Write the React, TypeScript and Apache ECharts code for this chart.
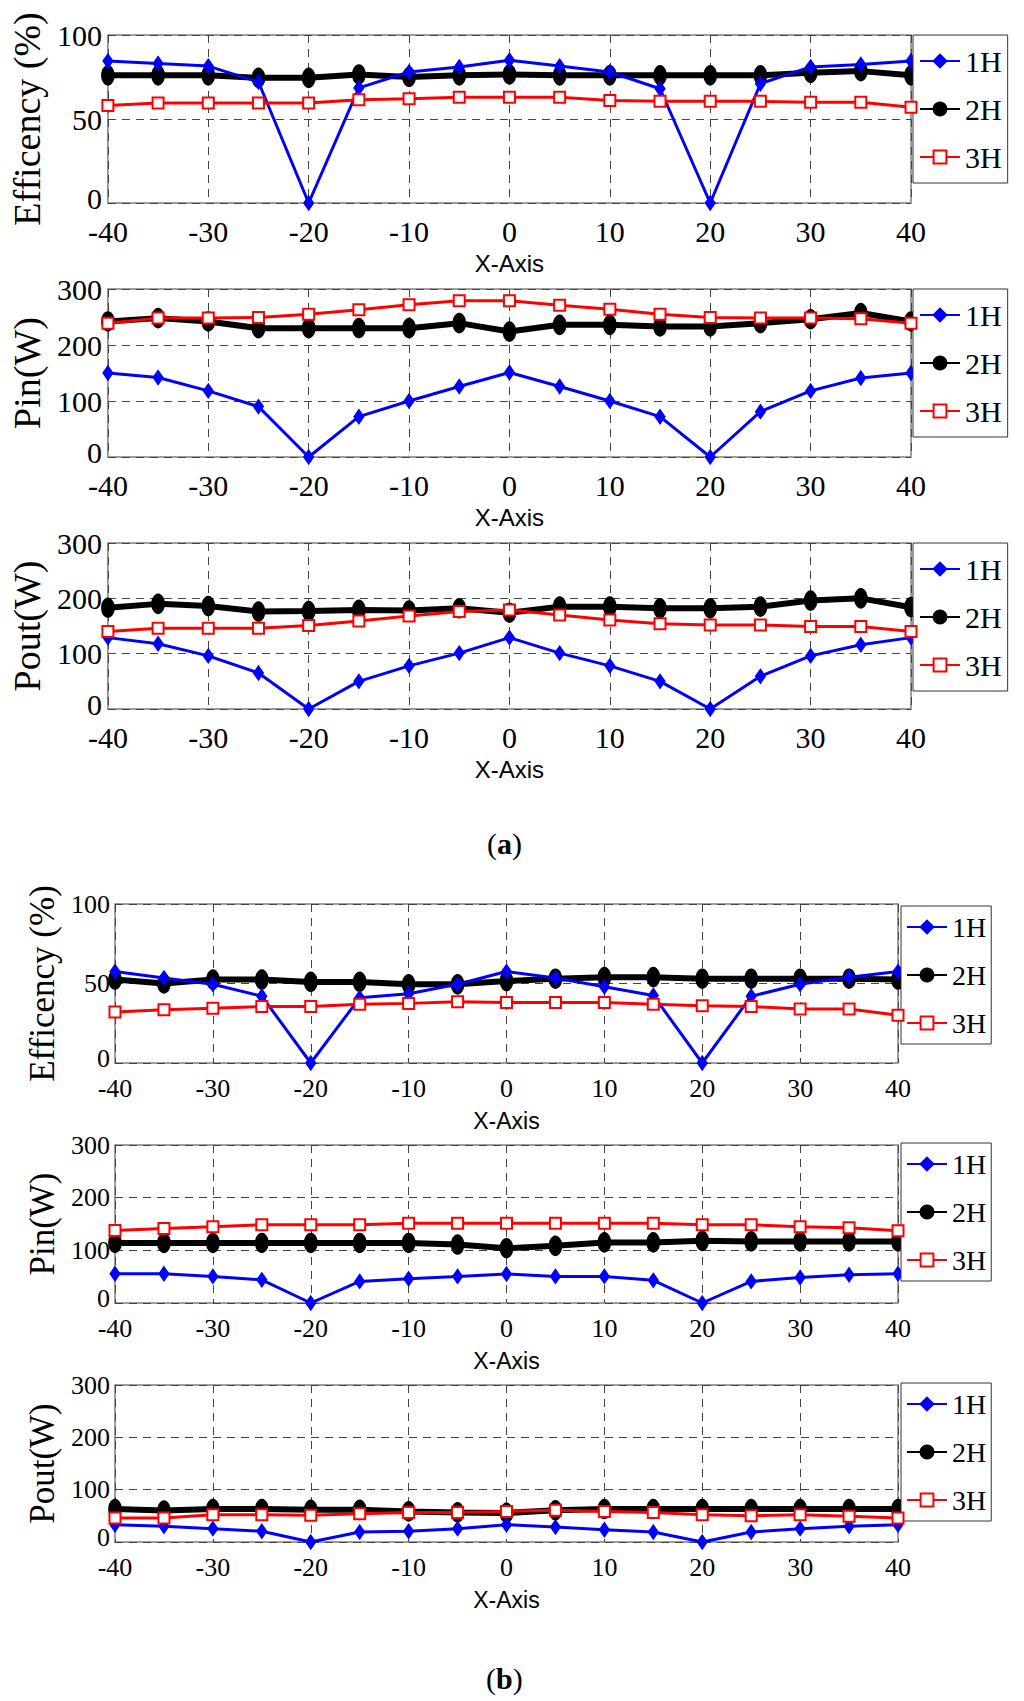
import { useEffect, useRef } from "react";
import * as echarts from "echarts";

const xValues = [-40, -35, -30, -25, -20, -15, -10, -5, 0, 5, 10, 15, 20, 25, 30, 35, 40];
const seriesNames = ["1H", "2H", "3H"];
const xTicks = { min: -40, max: 40, interval: 10 };

// panel (a)
const effA1H = [84.5, 83, 81.5, 72, 0, 68.5, 78, 81, 85, 81.5, 78, 68, 0, 71, 81, 82.5, 84.5];
const effA2H = [76, 76, 76, 74.5, 74.5, 76.5, 75, 76, 76.5, 76, 76, 76, 76, 76, 77.5, 78.5, 76];
const effA3H = [58, 59.5, 59.5, 59.5, 59.5, 61.5, 62, 63, 63, 63, 61, 60.5, 60.5, 60.5, 60, 60, 57];

const pinA1H = [150, 142, 118, 90, 0, 72, 100, 126, 151, 126, 100, 72, 0, 81, 118, 141, 150];
const pinA2H = [242, 248, 242, 230, 230, 230, 230, 239, 224, 236, 236, 233, 233, 239, 246, 257, 242];
const pinA3H = [239, 248, 248, 249, 255, 263, 272, 279, 279, 271, 264, 255, 249, 248, 248, 247, 239];

const poutA1H = [129, 118, 96, 65, 0, 50, 78, 101, 129, 101, 78, 50, 0, 59, 96, 116, 129];
const poutA2H = [183, 190, 186, 176, 177, 179, 178, 182, 174, 185, 185, 182, 182, 185, 196, 200, 184];
const poutA3H = [140, 146, 146, 146, 151, 159, 168, 176, 179, 170, 161, 154, 152, 152, 149, 149, 140];

// panel (b)
const effB1H = [57.5, 53.5, 49.5, 42, 0, 41, 43.5, 49.5, 57.5, 53.5, 48, 42.5, 0, 42, 49.5, 54, 57.5];
const effB2H = [52.5, 50, 52.5, 52.5, 51, 51, 49.5, 49.5, 51.5, 53, 54, 54, 53, 53, 53, 53, 52.5];
const effB3H = [32, 33.5, 34.5, 35.5, 35.5, 37, 37.5, 38.5, 38, 38, 38, 37, 36, 35.5, 34, 34, 30];

const pinB1H = [55.5, 55.5, 50.5, 44, 0, 41, 46, 50.5, 55, 50.5, 50.5, 43, 0, 41, 48.5, 53.5, 55.5];
const pinB2H = [114, 114, 114, 114, 114, 114, 114, 111, 104, 108.5, 115, 115, 118, 117, 117, 117, 117];
const pinB3H = [137.5, 141.5, 145, 148.5, 148.5, 148.5, 151.5, 151.5, 151.5, 151.5, 151.5, 151.5, 148.5, 148.5, 145, 143, 137];

const poutB1H = [33, 30, 25.5, 20.5, 0, 19, 20.5, 25.5, 33, 28.5, 23.5, 19, 0, 19, 25.5, 30, 33];
const poutB2H = [63, 60, 63, 63, 61.5, 61.5, 58.5, 56.5, 55.5, 60.5, 63, 63, 63, 63, 63, 63, 63];
const poutB3H = [46, 46, 52, 52, 51, 54, 56.5, 56.5, 58.5, 60.5, 58.5, 56.5, 52, 50, 52, 49, 46];

const effTicks = { min: 0, max: 100, interval: 50 };
const powerTicks = { min: 0, max: 300, interval: 100 };

const SERIF = "'Liberation Serif', 'Times New Roman', serif";
const SANS = "'Liberation Sans', Arial, sans-serif";

const panels = [
  { name: "Efficency (%)", ticks: effTicks, data: [effA1H, effA2H, effA3H], left: 99, width: 812, top: 35, height: 168, legendTop: 35, big: true },
  { name: "Pin(W)", ticks: powerTicks, data: [pinA1H, pinA2H, pinA3H], left: 99, width: 812, top: 289, height: 168, legendTop: 289, big: true },
  { name: "Pout(W)", ticks: powerTicks, data: [poutA1H, poutA2H, poutA3H], left: 99, width: 812, top: 543, height: 166, legendTop: 543, big: true },
  { name: "Efficency (%)", ticks: effTicks, data: [effB1H, effB2H, effB3H], left: 115, width: 783, top: 904, height: 159, legendTop: 906, big: false },
  { name: "Pin(W)", ticks: powerTicks, data: [pinB1H, pinB2H, pinB3H], left: 115, width: 783, top: 1145, height: 158, legendTop: 1143, big: false },
  { name: "Pout(W)", ticks: powerTicks, data: [poutB1H, poutB2H, poutB3H], left: 115, width: 783, top: 1385, height: 157, legendTop: 1383, big: false },
];

const seriesStyles = [
  { color: "#0000ff", width: 3, symbol: "diamond", symbolSize: [9, 13], z: 3 },
  { color: "#000000", width: 6, symbol: "circle", symbolSize: [12, 18], z: 2 },
  { color: "#ff0000", width: 3, symbol: "emptyRect", symbolSize: [11, 11], z: 4 },
];

function buildOption() {
  const grid: any[] = [];
  const xAxis: any[] = [];
  const yAxis: any[] = [];
  const legend: any[] = [];
  const series: any[] = [];

  panels.forEach((p, i) => {
    const tickSize = p.big ? 30 : 26;
    grid.push({
      left: p.left,
      top: p.top,
      width: p.width,
      height: p.height,
      show: true,
      borderColor: "#808080",
      borderWidth: 1.5,
      backgroundColor: "#fff",
    });
    xAxis.push({
      type: "value",
      gridIndex: i,
      min: xTicks.min,
      max: xTicks.max,
      interval: xTicks.interval,
      name: "X-Axis",
      nameLocation: "middle",
      nameGap: p.big ? 48 : 46,
      nameTextStyle: { fontFamily: SANS, fontSize: p.big ? 24 : 23, color: "#000" },
      axisLine: { show: false },
      axisTick: { show: false },
      axisLabel: {
        fontFamily: SERIF,
        fontSize: tickSize,
        lineHeight: p.big ? 24 : 22,
        color: "#000",
        margin: p.big ? 16 : 14,
        showMinLabel: true,
        showMaxLabel: true,
      },
      splitLine: { show: true, lineStyle: { color: "#444", width: 1, type: [8, 6] } },
    });
    yAxis.push({
      type: "value",
      gridIndex: i,
      min: p.ticks.min,
      max: p.ticks.max,
      interval: p.ticks.interval,
      name: p.name,
      nameLocation: "middle",
      nameGap: p.big ? 44 : 36,
      nameTextStyle: { fontFamily: SERIF, fontSize: p.big ? 38 : 35, color: "#000" },
      axisLine: { show: false },
      axisTick: { show: false },
      axisLabel: {
        fontFamily: SERIF,
        fontSize: tickSize,
        lineHeight: p.big ? 20 : 18,
        color: "#000",
        margin: p.big ? 6 : 5,
        // lift the bottom label a little so it clears the first x label
        formatter: (v: number) => (v === p.ticks.min ? `{low|${v}}` : `${v}`),
        rich: {
          low: { fontFamily: SERIF, fontSize: tickSize, color: "#000", padding: [0, 0, 10, 0] },
        },
      },
      splitLine: { show: true, lineStyle: { color: "#444", width: 1, type: [8, 6] } },
    });
    legend.push({
      orient: "vertical",
      left: p.big ? 913 : 901,
      top: p.legendTop,
      data: seriesNames,
      itemWidth: 40,
      itemHeight: 16,
      itemGap: p.big ? 18 : 20,
      padding: p.big ? [11, 6] : [7, 5],
      backgroundColor: "#fff",
      borderColor: "#333",
      borderWidth: 1,
      borderRadius: 0,
      selectedMode: false,
      textStyle: { fontFamily: SERIF, fontSize: p.big ? 30 : 28, lineHeight: p.big ? 30 : 28, color: "#000" },
    });
    p.data.forEach((values, k) => {
      const s = seriesStyles[k];
      series.push({
        name: seriesNames[k],
        type: "line",
        xAxisIndex: i,
        yAxisIndex: i,
        data: xValues.map((x, j) => [x, values[j]]),
        symbol: s.symbol,
        symbolSize: s.symbolSize,
        showAllSymbol: true,
        z: s.z,
        lineStyle: { color: s.color, width: s.width },
        itemStyle: { color: s.color, borderColor: s.color, borderWidth: 2 },
        emphasis: { disabled: true },
      });
    });
  });

  return {
    animation: false,
    backgroundColor: "#fff",
    grid,
    xAxis,
    yAxis,
    legend,
    series,
    graphic: [
      {
        type: "text",
        left: 509 - 22,
        top: 828,
        style: {
          text: "{p|(}{b|a}{p|)}",
          rich: {
            p: { fontFamily: SERIF, fontSize: 30, fill: "#000" },
            b: { fontFamily: SERIF, fontSize: 30, fontWeight: "bold", fill: "#000" },
          },
        },
      },
      {
        type: "text",
        left: 508 - 22,
        top: 1663,
        style: {
          text: "{p|(}{b|b}{p|)}",
          rich: {
            p: { fontFamily: SERIF, fontSize: 30, fill: "#000" },
            b: { fontFamily: SERIF, fontSize: 30, fontWeight: "bold", fill: "#000" },
          },
        },
      },
    ],
  };
}

function App() {
  const chartRef = useRef<HTMLDivElement>(null);

  useEffect(() => {
    const chart = echarts.init(chartRef.current!, undefined, { renderer: "svg" });
    chart.setOption(buildOption() as any);
    return () => {
      chart.dispose();
    };
  }, []);

  return (
    <div
      ref={chartRef}
      style={{ position: "absolute", left: 0, top: 0, width: "1024px", height: "1701px", background: "#fff" }}
    />
  );
}

export default App;
